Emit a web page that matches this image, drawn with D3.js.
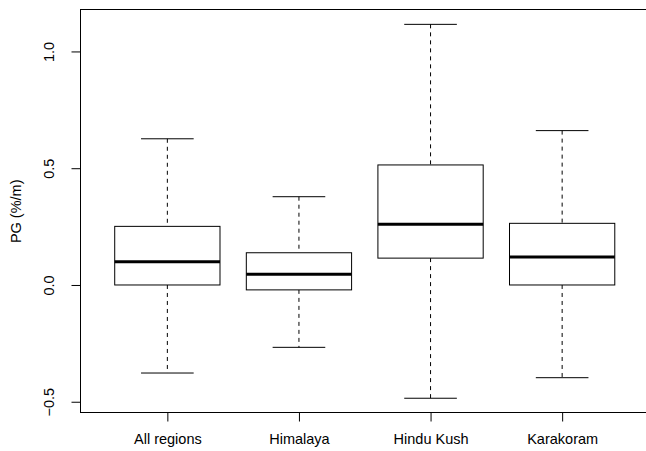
<!DOCTYPE html>
<html>
<head>
<meta charset="utf-8">
<script src="https://cdn.jsdelivr.net/npm/d3@7"></script>
<style>
  html, body { margin: 0; padding: 0; background: #fff; }
  svg { display: block; }
  text { font-family: "Liberation Sans", Arial, Helvetica, sans-serif; fill: #000; }
</style>
</head>
<body>
<script>
// Five-number summaries of PG per region
const categories = ["All regions", "Himalaya", "Hindu Kush", "Karakoram"];
const whiskerLow  = [-0.377, -0.267, -0.485, -0.397];
const q1          = [ 0.000, -0.021,  0.115,  0.000];
const median      = [ 0.100,  0.046,  0.260,  0.120];
const q3          = [ 0.251,  0.138,  0.514,  0.264];
const whiskerHigh = [ 0.626,  0.378,  1.116,  0.661];
const yTicks = [-0.5, 0.0, 0.5, 1.0];
const yTitle = "PG (%/m)";

const W = 646, H = 451;
const plot = { left: 80.5, right: 649, top: 9.4, bottom: 413.2 };

const svg = d3.select("body").append("svg")
  .attr("width", W).attr("height", H);

// Box positions 1..n with boxes 0.8 wide, range padded by 4% on each side
const n = categories.length;
const xLo = 0.5, xHi = n + 0.5, xPad = (xHi - xLo) * 0.04;
const x = d3.scaleLinear().domain([xLo - xPad, xHi + xPad]).range([plot.left, plot.right]);

const yMin = d3.min(whiskerLow), yMax = d3.max(whiskerHigh);
const yPad = (yMax - yMin) * 0.04;
const y = d3.scaleLinear().domain([yMin - yPad, yMax + yPad]).range([plot.bottom, plot.top]);

const fmt = v => (v < 0 ? "\u2212" : "") + Math.abs(v).toFixed(1);

// Y axis: ticks and rotated labels
const yAxis = d3.axisLeft(y).tickValues(yTicks).tickSize(9).tickFormat(fmt);
const gy = svg.append("g").attr("transform", `translate(${Math.round(plot.left - 0.5) + 0.5},0)`).call(yAxis);
gy.select(".domain").remove();
gy.selectAll(".tick line").attr("stroke", "#000").attr("stroke-width", 1);
gy.selectAll(".tick text")
  .attr("font-size", 14.5)
  .attr("x", null).attr("dy", null)
  .attr("text-anchor", "middle")
  .attr("transform", "translate(-26.5,0) rotate(-90)");

// X axis: ticks and category labels
const xAxis = d3.axisBottom(x).tickValues(d3.range(1, n + 1)).tickSize(9)
  .tickFormat((d, i) => categories[i]);
const gx = svg.append("g").attr("transform", `translate(0,${Math.round(plot.bottom) - 0.5})`).call(xAxis);
gx.select(".domain").remove();
gx.selectAll(".tick line").attr("stroke", "#000").attr("stroke-width", 1);
gx.selectAll(".tick text").attr("font-size", 14.5).attr("y", 31.5).attr("dy", null);

// Y axis title
svg.append("text")
  .attr("transform", `translate(21,${(plot.top + plot.bottom) / 2}) rotate(-90)`)
  .attr("text-anchor", "middle")
  .attr("font-size", 14.5)
  .text(yTitle);

// Boxes
const boxHalf = 0.4, capHalf = 0.2;
const g = svg.append("g").attr("stroke", "#000").attr("fill", "none");
categories.forEach((c, i) => {
  const pos = i + 1;
  const cx = x(pos);
  // dashed whiskers
  g.append("line").attr("x1", cx).attr("x2", cx)
    .attr("y1", y(whiskerHigh[i])).attr("y2", y(q3[i]))
    .attr("stroke-dasharray", "4,4");
  g.append("line").attr("x1", cx).attr("x2", cx)
    .attr("y1", y(q1[i])).attr("y2", y(whiskerLow[i]))
    .attr("stroke-dasharray", "4,4");
  // staples
  [whiskerHigh[i], whiskerLow[i]].forEach(v => {
    g.append("line")
      .attr("x1", x(pos - capHalf)).attr("x2", x(pos + capHalf))
      .attr("y1", y(v)).attr("y2", y(v));
  });
  // box
  g.append("rect")
    .attr("x", x(pos - boxHalf)).attr("width", x(pos + boxHalf) - x(pos - boxHalf))
    .attr("y", y(q3[i])).attr("height", y(q1[i]) - y(q3[i]))
    .attr("fill", "#fff");
  // median
  g.append("line")
    .attr("x1", x(pos - boxHalf)).attr("x2", x(pos + boxHalf))
    .attr("y1", y(median[i])).attr("y2", y(median[i]))
    .attr("stroke-width", 3);
});

// Plot frame
svg.append("rect")
  .attr("x", Math.round(plot.left - 0.5) + 0.5)
  .attr("y", Math.round(plot.top) + 0.5)
  .attr("width", plot.right - plot.left)
  .attr("height", Math.round(plot.bottom) - Math.round(plot.top) - 1)
  .attr("fill", "none").attr("stroke", "#000");
</script>
</body>
</html>
